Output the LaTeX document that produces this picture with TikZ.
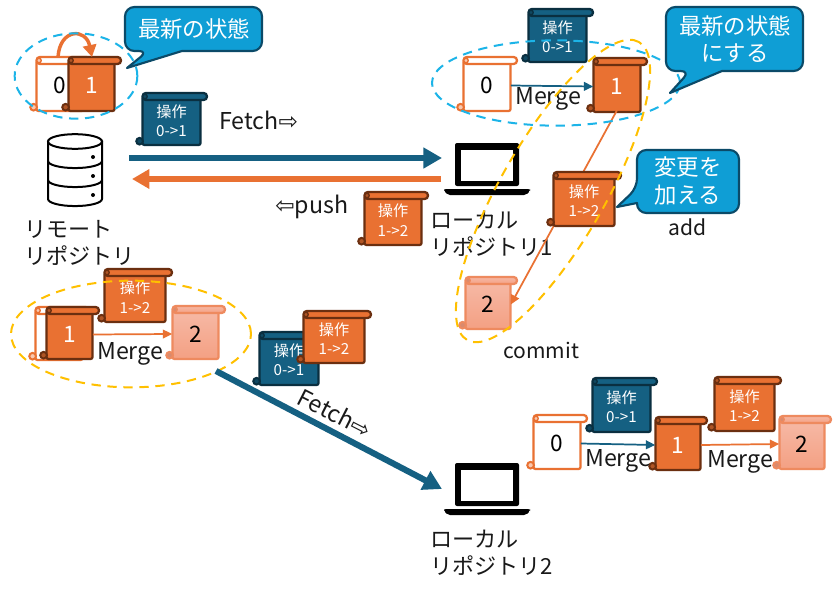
\documentclass[tikz,border=0pt]{standalone}
\usepackage{fontspec}
\setmainfont{Noto Sans CJK JP}
\newfontfamily\dv{DejaVu Sans}
\usetikzlibrary{arrows.meta,calc}
\definecolor{org}{HTML}{E97132}
\definecolor{orgd}{HTML}{6B2F10}
\definecolor{blu}{HTML}{156082}
\definecolor{blud}{HTML}{0A2F40}
\definecolor{call}{HTML}{0F9ED5}
\definecolor{calld}{HTML}{0B4A68}
\definecolor{cy}{HTML}{1CB4E8}
\definecolor{yel}{HTML}{FFC000}
\definecolor{F6B9A6}{HTML}{F6B9A6}
\definecolor{F4A083}{HTML}{F4A083}
\definecolor{EE8A5F}{HTML}{EE8A5F}
\definecolor{D98A6E}{HTML}{D98A6E}
\definecolor{F8C8B0}{HTML}{F8C8B0}
\tikzset{
 x=0.75pt,y=-0.75pt,
 orgscroll/.style={fill=org,draw=orgd},
 orgscrolltext/.style={text=white},
 orgscrollcurl/.style={fill=org!75!black,draw=orgd},
 bluscroll/.style={fill=blu,draw=blud},
 bluscrolltext/.style={text=white},
 bluscrollcurl/.style={fill=blu!75!black,draw=blud},
 litescroll/.style={top color=F6B9A6,bottom color=F4A083,draw=EE8A5F},
 litescrolltext/.style={text=black},
 litescrollcurl/.style={fill=D98A6E,draw=EE8A5F},
 whitescroll/.style={fill=white,draw=org},
 whitescrolltext/.style={text=black},
 whitescrollcurl/.style={fill=F8C8B0,draw=org},
 scrollline/.style={line width=1.7pt,line join=round},
 lab/.style={font=\fontsize{16.6}{20.5}\selectfont,align=left,anchor=west,inner sep=0pt,text=black!90},
 latin/.style={font=\fontsize{17.4}{20.5}\selectfont,anchor=west,inner sep=0pt,text=black!90},
 small/.style={font=\fontsize{15.8}{20.5}\selectfont,anchor=west,inner sep=0pt,text=black!90},
 bubble/.style={fill=call,draw=calld,line width=1.6pt,line join=round},
 bubtext/.style={font=\fontsize{16.8}{20.5}\selectfont,align=center,text=white,inner sep=0pt},
 cyring/.style={draw=cy,line width=1.5pt,dash pattern=on 7pt off 5pt},
 yelring/.style={draw=yel,line width=1.5pt,dash pattern=on 7pt off 5pt},
 bigblue/.style={draw=blu,line width=4.6pt,-{Triangle[length=14pt,width=15pt]}},
 bigorg/.style={draw=org,line width=4.6pt,-{Triangle[length=13pt,width=14pt]}},
 thinblue/.style={draw=blu,line width=1.3pt,-{Triangle[length=7pt,width=6.5pt]}},
 thinorg/.style={draw=org,line width=1.3pt,-{Triangle[length=7pt,width=6.5pt]}},
 icon/.style={draw=black,line width=1.5pt},
}
\newcommand\numt[1]{\fontsize{17}{20}\selectfont #1}
\newcommand\opt[2]{\parbox{1.5cm}{\centering\fontsize{11.4}{14.5}\selectfont #1\\#2}}
% name, left, top, width, height, style, text
\newcommand\Scr[7]{%
 \pgfmathsetmacro\sL{#2+6.5}\pgfmathsetmacro\sR{#2+#4-6.5}\pgfmathsetmacro\sB{#3+#5}%
 \pgfmathsetmacro\sW{#2+#4}\pgfmathsetmacro\sT{#3+7}\pgfmathsetmacro\sC{#3+3.5}%
 \pgfmathsetmacro\sM{\sL+2.5}\pgfmathsetmacro\sQ{#3+#5-3.8}\pgfmathsetmacro\sMid{#2+3.6}%
 \pgfmathsetmacro\sCx{(\sL+\sR)/2}\pgfmathsetmacro\sCy{#3+(#5+3)/2}%
 \pgfmathsetmacro\sBw{(\sR-\sL)*0.75}\pgfmathsetmacro\sBh{(#5-7)*0.75}%
 \draw[scrollline,#6,rounded corners=1.5pt] (\sL,\sC) -- (\sL,\sB) -- (\sR,\sB) -- (\sR,\sC) -- cycle;
 \draw[#6curl,line width=1.5pt] (\sMid,\sQ) circle[radius=2.5pt];
 \draw[scrollline,#6,rounded corners=2.5pt] (\sL,#3) -- (\sW,#3) -- (\sW,\sT) -- (\sL,\sT) -- cycle;
 \draw[#6curl,line width=1pt] (\sM,\sC) circle[radius=1.7pt];
 \node[#6text,inner sep=0pt,minimum width=\sBw pt,minimum height=\sBh pt] (#1) at (\sCx,\sCy) {#7};
}
\newcommand\Laptop[2]{%
 \node[inner sep=0pt,minimum width=64.5pt,minimum height=39pt] (#1) at (487,#2+26) {};
 \fill[black,rounded corners=1.5pt] (455,#2) rectangle (519,#2+43);
 \fill[white] (461,#2+7) rectangle (513,#2+38);
 \fill[black,rounded corners=1.5pt] (444,#2+46) -- (530,#2+46) -- (530,#2+48) -- (526,#2+52) -- (448,#2+52) -- (444,#2+48) -- cycle;
}
\begin{document}
\begin{tikzpicture}
\useasboundingbox (0,0) rectangle (840,589);
\fill[white] (0,0) rectangle (840,589);

% top-left group
\Scr{sa}{30}{57}{60}{54}{whitescroll}{\numt{0}}
\Scr{sb}{62}{57}{59}{54}{orgscroll}{\numt{1}}
\coordinate (ca) at (58,57); \coordinate (cb) at (92,57);
\draw[org,line width=2.6pt,-{Triangle[length=9pt,width=10pt]}] (ca) .. controls (60,28) and (86,28) .. (cb);
\draw[cyring] (76,76) ellipse[x radius=46pt,y radius=32pt];
\draw[bubble] (148,51) [sharp corners]-- (127,68) -- (182,51) [rounded corners=7pt]-- (262,51) -- (262,7) -- (125,7) -- (125,51) -- cycle;
\node[bubtext] (t1) at (194,29) {最新の状態};

\Scr{sc}{136}{93}{71}{52}{bluscroll}{\opt{操作}{0->1}}
\node[latin] (fetch1) at (219,120) {Fetch{\dv ⇨}};

% database
\node[inner sep=0pt,minimum width=40pt,minimum height=53pt] (db) at (75,170) {};
\draw[icon,fill=white] (48,141.5) -- (48,199) arc[start angle=180,end angle=360,x radius=20.25pt,y radius=5.3pt] -- (102,141.5) -- cycle;
\draw[icon] (48,161) arc[start angle=180,end angle=360,x radius=20.25pt,y radius=5.3pt];
\draw[icon] (48,180) arc[start angle=180,end angle=360,x radius=20.25pt,y radius=5.3pt];
\draw[icon,fill=white] (75,141.5) ellipse[x radius=20.25pt,y radius=5.5pt];
\fill (93,157) circle[radius=1.5pt] (93,176) circle[radius=1.5pt] (93,195) circle[radius=1.5pt];
\node[lab] (rem) at (24,243) {リモート\\リポジトリ};

% laptops
\Laptop{lap1}{143}
\Laptop{lap2}{463}
\coordinate (f1s) at (129,158); \coordinate (f1e) at (442,158);
\coordinate (p1s) at (441,179); \coordinate (p1e) at (132,179);
\draw[bigblue] (f1s) -- (f1e);
\draw[bigorg] (p1s) -- (p1e);
\node[latin] (push) at (275,207) {{\dv ⇦}push};
\Scr{sh}{358}{192}{70}{53}{orgscroll}{\opt{操作}{1->2}}
\node[lab] (l1) at (430,234) {ローカル\\リポジトリ1};

% top right group
\Scr{sd}{522}{9}{71}{53}{bluscroll}{\opt{操作}{0->1}}
\Scr{se}{457}{57}{60}{54}{whitescroll}{\numt{0}}
\Scr{si}{459}{277}{58}{52}{litescroll}{\numt{2}}
\Scr{sf}{587}{58}{60}{54}{orgscroll}{\numt{1}}
\draw[thinorg] (sf.south) -- (si.east);
\draw[thinblue] (se.east) -- (sf.west);
\node[latin] (m1) at (515,99) {Merge};
\Scr{sg}{547}{172}{74}{54}{orgscroll}{\opt{操作}{1->2}}
\draw[cyring] (556,83) ellipse[x radius=93pt,y radius=32pt];
\draw[yelring,shift={(553,191)},rotate=60] (0,0) ellipse[x radius=129pt,y radius=39pt];
\draw[bubble] (690,71) [sharp corners]-- (670,93) -- (722,71) [rounded corners=7pt]-- (803,71) -- (803,7) -- (666,7) -- (666,71) -- cycle;
\node[bubtext] (t2) at (735,39) {最新の状態\\にする};
\draw[bubble] (637,188) [sharp corners]-- (617,207) -- (637,203) [rounded corners=7pt]-- (637,213) -- (739,213) -- (739,150) -- (637,150) -- cycle;
\node[bubtext] (t3) at (688,181) {変更を\\加える};
\node[small] (add) at (668,227) {add};
\node[small] (com) at (503,350) {commit};

% lower left group
\Scr{sj}{29}{307}{60}{53}{whitescroll}{}
\Scr{sk}{40}{307}{59}{52}{orgscroll}{\numt{1}}
\Scr{sm}{98}{269}{74}{53}{orgscroll}{\opt{操作}{1->2}}
\Scr{sl}{166}{306}{59}{53}{litescroll}{\numt{2}}
\draw[thinorg] (sk.east) -- (sl.west);
\node[latin] (m2) at (97,354) {Merge};
\draw[yelring] (131,334) ellipse[x radius=90pt,y radius=40pt];
\Scr{sn}{253}{332}{72}{53}{bluscroll}{\opt{操作}{0->1}}
\Scr{so}{297}{311}{74}{52}{orgscroll}{\opt{操作}{1->2}}
\coordinate (f2s) at (216,371); \coordinate (f2e) at (442,489);
\draw[bigblue] (f2s) -- (f2e);
\node[latin,anchor=center,rotate=-27] (fetch2) at (335,413) {Fetch{\dv ⇨}};
\node[lab] (l2) at (430,553) {ローカル\\リポジトリ2};

% lower right group
\Scr{sp}{527}{415}{60}{54}{whitescroll}{\numt{0}}
\Scr{sq}{586}{378}{71}{54}{bluscroll}{\opt{操作}{0->1}}
\Scr{sr}{649}{417}{58}{53}{orgscroll}{\numt{1}}
\Scr{ss}{708}{377}{73}{54}{orgscroll}{\opt{操作}{1->2}}
\Scr{st}{773}{416}{58}{53}{litescroll}{\numt{2}}
\draw[thinblue] (sp.east) -- (sr.west);
\draw[thinorg] (sr.east) -- (st.west);
\node[latin] (m3) at (585,461) {Merge};
\node[latin] (m4) at (707,462) {Merge};
\end{tikzpicture}
\end{document}
